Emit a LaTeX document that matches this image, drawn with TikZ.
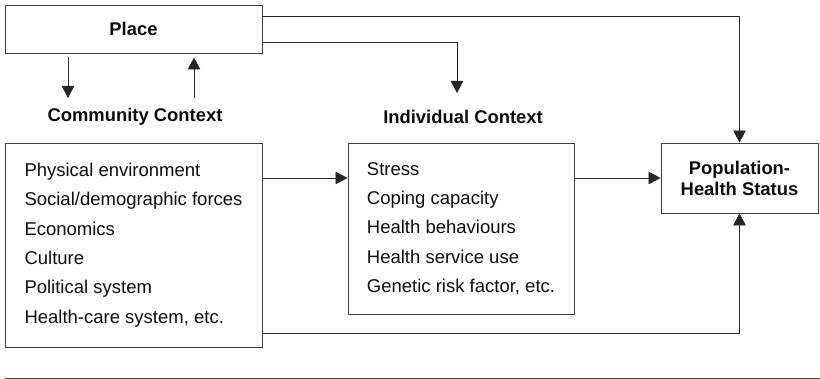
\documentclass[tikz,border=0pt]{standalone}
\usepackage{fontspec}
\setmainfont{Liberation Sans}
\usetikzlibrary{arrows.meta}

\begin{document}
\begin{tikzpicture}[x=1pt, y=-1pt, line width=0.8pt, draw=black!85, text=black!95,
  box/.style={rectangle,draw=black!75,line width=0.9pt,inner sep=0},
  list/.style={box,align=left,font={\fontsize{18.5}{29.3}\selectfont}},
  heading/.style={inner sep=0,font={\bfseries\fontsize{18.4}{21}\selectfont}},
  arr/.style={-{Triangle[length=12pt,width=12.5pt]}}]
  \useasboundingbox (0,0) rectangle (820,379);
  \node (place) [box,minimum width=257pt,minimum height=48pt,font={\bfseries\fontsize{18.4}{21}\selectfont}] at (133.5,29) {Place};
  \node (commctx) [heading] at (135,117) {Community Context};
  \node (indctx) [heading] at (463,117) {Individual Context};
  \node (comm) [list,minimum width=257pt,minimum height=204pt] at (133.5,245)
    {Physical environment\\ Social/demographic forces\\ Economics\\ Culture\\ Political system\\ Health-care system, etc.};
  \node (ind) [list,minimum width=226pt,minimum height=171pt] at (461,228.5)
    {Stress\\ Coping capacity\\ Health behaviours\\ Health service use\\ Genetic risk factor, etc.};
  \node (pop) [box,minimum width=157pt,minimum height=70pt,align=center,font={\bfseries\fontsize{18.4}{21}\selectfont}] at (739.5,178) {Population-\\Health Status};
  \coordinate (commdown) at (68,98);
  \coordinate (commup) at (194,98);
  \coordinate (indtop) at (457,93);
  % place and the two contexts
  \draw[arr,shorten <=4pt] (place.south -| commdown) -- (commdown);
  \draw[arr,shorten >=4pt] (commup) -- (place.south -| commup);
  \draw[arr] ([yshift=11pt]place.south east) -| (indtop);
  \draw[arr] ([yshift=-12pt]place.north east) -| (pop.north);
  % towards population health
  \draw[arr] (comm.east |- pop.west) -- (ind.west |- pop.west);
  \draw[arr] (ind.east |- pop.west) -- (pop.west);
  \draw[arr] ([yshift=14pt]comm.south east) -| (pop.south);
  \draw[black!70] (5,378) -- (820,378);
\end{tikzpicture}
\end{document}
